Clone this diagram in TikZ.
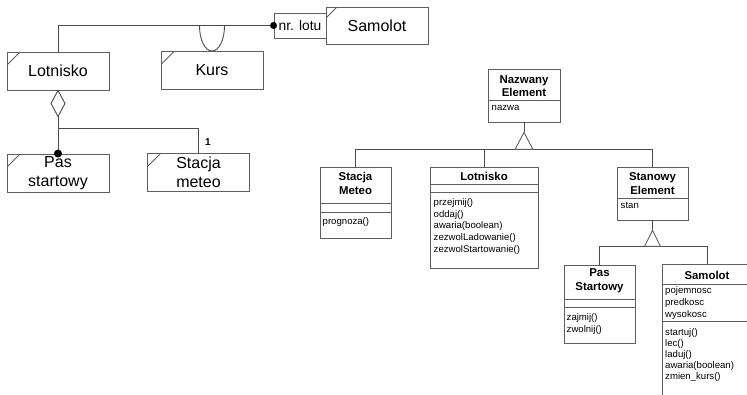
\documentclass[tikz,border=0pt]{standalone}
\usepackage{fontspec}
\setmainfont{Liberation Sans}
\usetikzlibrary{calc}

\definecolor{linec}{RGB}{75,75,75}
\definecolor{boxc}{RGB}{95,95,95}

\tikzset{
  conn/.style={draw=linec, line width=0.9pt},
  corner/.style={path picture={\draw[boxc, line width=0.8pt]
      ([yshift=-#1]path picture bounding box.north west) --
      ([xshift=#1]path picture bounding box.north west);}},
  roleclass/.style={draw=boxc, line width=0.9pt, inner sep=0pt,
      minimum width=102pt, minimum height=38pt, align=center,
      font=\fontsize{16}{19}\selectfont, corner=13pt},
  qualbox/.style={draw=boxc, line width=0.9pt, inner sep=0pt,
      minimum width=52pt, minimum height=25pt,
      font=\fontsize{13.8}{16}\selectfont},
  umlbox/.style={draw=boxc, line width=0.9pt, inner sep=0pt, fill=white},
  umltitle/.style={inner sep=0pt, align=center,
      font=\bfseries\fontsize{11.4}{13.5}\selectfont},
  umllist/.style={inner sep=0pt, anchor=north west, align=left,
      font=\fontsize{9.6}{#1}\selectfont},
  umllist/.default={11.6pt},
  divider/.style={draw=boxc, line width=0.9pt},
  gentri/.style={draw=boxc, line width=0.9pt, fill=white},
  dot/.style={circle, fill=black, inner sep=0pt, minimum size=#1},
}

\begin{document}
\begin{tikzpicture}[x=1pt, y=-1pt]
  \useasboundingbox (0,0) rectangle (747,395);
  \clip (0,0) rectangle (747,395);
  \fill[white] (0,0) rectangle (747,395);

  % ---------------- domain model (left) ----------------
  \node[roleclass] (lot)  at (58,71)    {Lotnisko};
  \node[roleclass] (kurs) at (212,70.5) {Kurs};
  \node[roleclass, minimum height=37pt, corner=11pt] (sam) at (377,25.5) {Samolot};
  \node[qualbox]   (qual) at (300,25.5) {nr. lotu};
  \node[roleclass] (pas)  at (58,173)   {Pas\\startowy};
  \node[roleclass] (met)  at (198.5,172.5) {Stacja\\meteo};

  % qualified association Lotnisko -- Samolot
  \draw[conn] (lot.north) |- (qual.west);
  \node[dot=7pt] (qdot) at (qual.west) {};

  % Kurs hanging from the association
  \draw[conn] ($(kurs.north)+(-12.5,-25)$)
      arc[start angle=180, end angle=360, x radius=12.5pt, y radius=25pt];

  % aggregation of runways and weather station
  \coordinate (dtop) at (lot.south);
  \coordinate (dbot) at ($(lot.south)+(0,26)$);
  \draw[conn, fill=white] (dtop) -- ($(dtop)+(7,13)$) -- (dbot)
      -- ($(dtop)+(-7,13)$) -- cycle;
  \draw[conn] (dbot) -- (pas.north);
  \coordinate (branch) at ($(dbot)+(0,12)$);
  \draw[conn] (branch) -| (met.north);
  \node[dot=8pt] (pdot) at (pas.north) {};
  \node[font=\bfseries\fontsize{10}{12}\selectfont, inner sep=0pt]
      (mult) at (208,142) {1};

  % ---------------- class model (right) ----------------
  % Nazwany Element
  \node[umlbox, minimum width=72pt, minimum height=53pt] (ne) at (524,95.5) {};
  \draw[divider] (488,100) -- (560,100);
  \node[umltitle] (netitle) at (524,86) {Nazwany\\Element};
  \node[umllist] (neattr) at (491.5,105) {nazwa};

  % Stacja Meteo
  \node[umlbox, minimum width=71pt, minimum height=71pt] (sm) at (355.5,202.5) {};
  \draw[divider] (320,203) -- (391,203);
  \draw[divider] (320,212) -- (391,212);
  \node[umltitle] (smtitle) at (355.5,183.5) {Stacja\\Meteo};
  \node[umllist] (smops) at (322.5,217) {prognoza()};

  % Lotnisko
  \node[umlbox, minimum width=108pt, minimum height=101pt] (lt) at (484,217.5) {};
  \draw[divider] (430,184) -- (538,184);
  \draw[divider] (430,192) -- (538,192);
  \node[umltitle] (lttitle) at (484,176.5) {Lotnisko};
  \node[umllist] (ltops) at (433.5,198.5)
      {przejmij()\\oddaj()\\awaria(boolean)\\zezwolLadowanie()\\zezwolStartowanie()};

  % Stanowy Element
  \node[umlbox, minimum width=71pt, minimum height=53pt] (se) at (652.5,193.5) {};
  \draw[divider] (617,198) -- (688,198);
  \node[umltitle] (setitle) at (652.5,183.5) {Stanowy\\Element};
  \node[umllist] (seattr) at (620.5,202) {stan};

  % Pas Startowy
  \node[umlbox, minimum width=71pt, minimum height=78pt] (ps) at (599.5,304) {};
  \draw[divider] (564,299) -- (635,299);
  \draw[divider] (564,307) -- (635,307);
  \node[umltitle] (pstitle) at (599.5,281) {Pas\\Startowy};
  \node[umllist] (psops) at (566.5,313.5) {zajmij()\\zwolnij()};

  % Samolot
  \node[umlbox, minimum width=90pt, minimum height=134pt] (sa) at (707,331) {};
  \draw[divider] (662,284) -- (752,284);
  \draw[divider] (662,321) -- (752,321);
  \node[umltitle] (satitle) at (707,275) {Samolot};
  \node[umllist=12.4pt] (saattr) at (665,286) {pojemnosc\\predkosc\\wysokosc};
  \node[umllist=11pt] (saops) at (665,328) {startuj()\\lec()\\laduj()\\awaria(boolean)\\zmien\_kurs()};

  % generalisation: Nazwany Element
  \coordinate (g1) at ($(ne.south)+(0,10)$);
  \coordinate (g1b) at ($(g1)+(0,17)$);
  \draw[conn] (ne.south) -- (g1);
  \draw[conn] (sm.north) -- (sm.north |- g1b) -- (se.north |- g1b) -- (se.north);
  \draw[conn] (lt.north) -- (lt.north |- g1b);
  \draw[gentri] (g1) -- ($(g1b)+(-9,0)$) -- ($(g1b)+(9,0)$) -- cycle;

  % generalisation: Stanowy Element
  \coordinate (g2) at ($(se.south)+(0,10)$);
  \coordinate (g2b) at ($(g2)+(0,16)$);
  \draw[conn] (se.south) -- (g2);
  \draw[conn] (ps.north) -- (ps.north |- g2b) -- (sa.north |- g2b) -- (sa.north);
  \draw[gentri] (g2) -- ($(g2b)+(-8,0)$) -- ($(g2b)+(8,0)$) -- cycle;
\end{tikzpicture}
\end{document}
